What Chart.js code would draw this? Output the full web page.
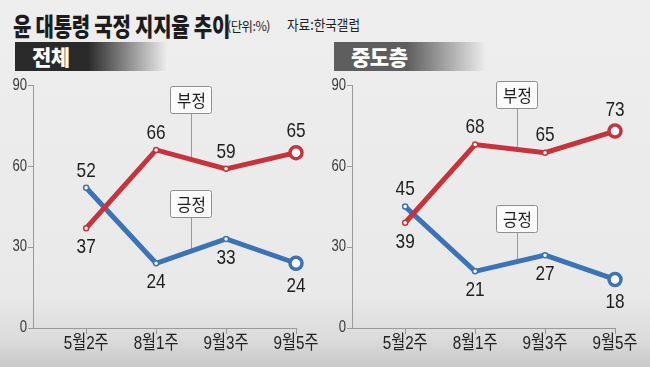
<!DOCTYPE html>
<html>
<head>
<meta charset="utf-8">
<script src="https://cdn.jsdelivr.net/npm/chart.js@4/dist/chart.umd.min.js"></script>
<style>
  html, body { margin: 0; padding: 0; }
  body {
    width: 650px; height: 367px; position: relative; overflow: hidden;
    background: linear-gradient(to bottom, #eeeeee 0%, #e9e9ea 80%, #dcdcdc 92%, #c9c9c9 100%);
    font-family: "Noto Sans CJK KR", sans-serif;
  }
  .t { position: absolute; white-space: nowrap; transform-origin: 0 50%; color: #1c1c1c; }
  #title { left: 13px; top: 7px; font-size: 25px; font-weight: 900; transform: scaleX(0.8); letter-spacing: -0.3px; }
  #unit { left: 227px; top: 16px; font-size: 13px; transform: scaleX(0.95); letter-spacing: -0.5px; }
  #source { left: 287px; top: 14px; font-size: 14px; transform: scaleX(0.9); color: #222; }
  .head { position: absolute; top: 42px; height: 29px; width: 152px; color: #fff; font-weight: 900; font-size: 21px; line-height: 29px; padding-left: 17px; box-sizing: border-box; letter-spacing: -0.5px; }
  #headL { left: 15px; background: linear-gradient(to right, #2a2a2a 0%, #2a2a2a 48%, rgba(42,42,42,0) 100%); }
  #headR { left: 334px; background: linear-gradient(to right, #5e5e5e 0%, #5e5e5e 48%, rgba(94,94,94,0) 100%); }
  .box { position: absolute; top: 75px; width: 325px; height: 292px; }
</style>
</head>
<body>
<div class="t" id="title">윤 대통령 국정 지지율 추이</div>
<div class="t" id="unit">(단위:%)</div>
<div class="t" id="source">자료:한국갤럽</div>
<div class="head" id="headL">전체</div>
<div class="head" id="headR">중도층</div>
<div class="box" style="left:0"><canvas id="chartL" width="325" height="292"></canvas></div>
<div class="box" style="left:325px"><canvas id="chartR" width="325" height="292"></canvas></div>
<script>
// categories and values
const categories = ['5월2주', '8월1주', '9월3주', '9월5주'];
const totalNeg = [37, 66, 59, 65];   // 전체 부정
const totalPos = [52, 24, 33, 24];   // 전체 긍정
const midNeg = [39, 68, 65, 73];     // 중도층 부정
const midPos = [45, 21, 27, 18];     // 중도층 긍정
const yTicks = [0, 30, 60, 90];

const RED = '#c8323a';
const BLUE = '#3b73b6';
const NUM_FONT = '"Liberation Sans", "Noto Sans CJK KR", sans-serif';

// the reference uses a condensed face, so squeeze the text horizontally
function drawNarrow(ctx, text, x, y, font, color, sx, align) {
    ctx.save();
    ctx.font = font;
    ctx.fillStyle = color;
    ctx.textAlign = align || 'center';
    ctx.textBaseline = 'middle';
    ctx.translate(x, y);
    ctx.scale(sx, 1);
    ctx.fillText(text, 0, 0);
    ctx.restore();
}

// axis labels drawn from the chart's own scales
const axisLabels = {
    id: 'axisLabels',
    afterDraw(chart) {
        const ctx = chart.ctx;
        const xs = chart.scales.x, ys = chart.scales.y;
        yTicks.forEach(v => {
            drawNarrow(ctx, String(v), xs.left - 6, ys.getPixelForValue(v), '16px ' + NUM_FONT, '#3a3a3a', 0.82, 'right');
        });
        categories.forEach((c, i) => {
            drawNarrow(ctx, c, xs.getPixelForValue(i), ys.bottom + 16, '19px ' + NUM_FONT, '#222222', 0.8, 'center');
        });
    }
};

// value labels: the higher of the two series goes above, the lower below
const valueLabels = {
    id: 'valueLabels',
    afterDatasetsDraw(chart) {
        const ctx = chart.ctx;
        const m0 = chart.getDatasetMeta(0), m1 = chart.getDatasetMeta(1);
        const d0 = chart.data.datasets[0].data, d1 = chart.data.datasets[1].data;
        const font = '21px ' + NUM_FONT;
        for (let i = 0; i < categories.length; i++) {
            const last = i === categories.length - 1;
            const off = last ? 21 : 17;
            const up0 = d0[i].y >= d1[i].y;
            const p0 = m0.data[i], p1 = m1.data[i];
            drawNarrow(ctx, String(d0[i].y), p0.x, p0.y + (up0 ? -off : off + 2), font, '#1e1e1e', 0.82);
            drawNarrow(ctx, String(d1[i].y), p1.x, p1.y + (up0 ? off + 2 : -off), font, '#1e1e1e', 0.82);
        }
    }
};

// 부정 / 긍정 name boxes with a thin leader line down to their series
const seriesTags = {
    id: 'seriesTags',
    beforeDatasetsDraw(chart, args, opts) {
        const ctx = chart.ctx;
        const xs = chart.scales.x, ys = chart.scales.y;
        const px = Math.round(xs.getPixelForValue(opts.at));
        opts.tags.forEach(t => {
            const data = chart.data.datasets[t.ds].data;
            const i = Math.floor(opts.at), f = opts.at - i;
            const v = data[i].y + (data[i + 1].y - data[i].y) * f;
            const lineY = ys.getPixelForValue(v);
            const cy = Math.round(ys.getPixelForValue(t.y));
            ctx.save();
            ctx.strokeStyle = '#9a9a9a';
            ctx.lineWidth = 1;
            ctx.beginPath();
            ctx.moveTo(px + 0.5, cy + 13);
            ctx.lineTo(px + 0.5, lineY);
            ctx.stroke();
            ctx.fillStyle = '#fbfbfb';
            ctx.strokeStyle = '#8f8f8f';
            ctx.beginPath();
            ctx.roundRect(px - 20.5, cy - 13.5, 41, 27, 2);
            ctx.fill();
            ctx.stroke();
            ctx.restore();
            drawNarrow(ctx, t.text, px + 0.5, cy + 1, '17px "Noto Sans CJK KR", sans-serif', '#1e1e1e', 0.92);
        });
    }
};

function makeChart(id, neg, pos, yWidth, padRight, tagAt, tagNegY, tagPosY) {
    const pts = arr => arr.map((v, i) => ({ x: i, y: v }));
    const style = (color) => ({
        borderColor: color,
        borderWidth: 5,
        pointBackgroundColor: '#ffffff',
        pointBorderColor: color,
        pointRadius: [2.5, 2.5, 2.5, 6],
        pointBorderWidth: [1.5, 1.5, 1.5, 3.5],
        tension: 0,
        clip: false
    });
    return new Chart(document.getElementById(id), {
        type: 'line',
        data: {
            datasets: [
                Object.assign({ label: '부정', data: pts(neg) }, style(RED)),
                Object.assign({ label: '긍정', data: pts(pos) }, style(BLUE))
            ]
        },
        options: {
            responsive: false,
            animation: false,
            events: [],
            layout: { padding: { top: 9, right: padRight, left: 0, bottom: 0 } },
            plugins: {
                legend: { display: false },
                tooltip: { enabled: false },
                seriesTags: {
                    at: tagAt,
                    tags: [
                        { ds: 0, y: tagNegY, text: '부정' },
                        { ds: 1, y: tagPosY, text: '긍정' }
                    ]
                }
            },
            scales: {
                x: {
                    type: 'linear',
                    min: -0.76,
                    max: categories.length - 1,
                    afterBuildTicks: s => { s.ticks = categories.map((c, i) => ({ value: i })); },
                    afterFit: s => { s.height = 39; },
                    grid: { drawOnChartArea: false, tickLength: 6, color: '#9a9a9a' },
                    border: { color: '#9a9a9a', width: 1 },
                    ticks: { color: 'rgba(0,0,0,0)', callback: v => categories[v], maxRotation: 0 }
                },
                y: {
                    min: 0,
                    max: 90,
                    afterBuildTicks: s => { s.ticks = yTicks.map(v => ({ value: v })); },
                    afterFit: s => { s.width = yWidth; },
                    grid: { drawOnChartArea: false, tickLength: 5, color: '#9a9a9a' },
                    border: { color: '#9a9a9a', width: 1 },
                    ticks: { color: 'rgba(0,0,0,0)' }
                }
            }
        },
        plugins: [seriesTags, valueLabels, axisLabels]
    });
}

makeChart('chartL', totalNeg, totalPos, 33, 29, 1.5, 84.5, 46);
makeChart('chartR', midNeg, midPos, 27, 35, 1.6, 86.5, 40.5);
</script>
</body>
</html>
